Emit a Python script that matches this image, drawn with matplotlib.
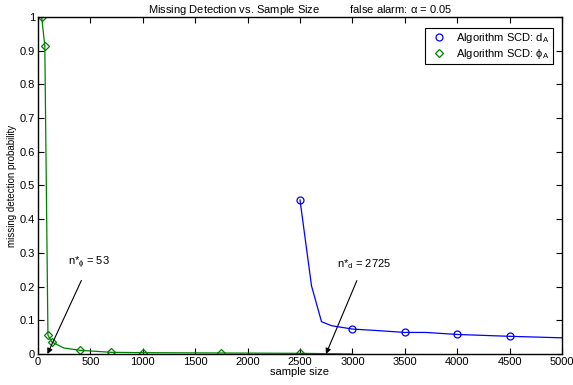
import matplotlib
matplotlib.use("Agg")
import matplotlib.pyplot as plt

plt.rcParams['font.family'] = ['Liberation Sans', 'DejaVu Sans']
plt.rcParams['mathtext.default'] = 'regular'
plt.rcParams['font.size'] = 8

# Algorithm SCD: d_A (blue) - line points and marker points
d_x = [2500, 2610, 2705, 2800, 3000, 3215, 3500, 3700, 4000, 4500, 5000]
d_y = [0.457, 0.202, 0.096, 0.084, 0.074, 0.070, 0.064, 0.064, 0.058, 0.0525, 0.048]
d_mx = [2500, 3000, 3500, 4000, 4500]
d_my = [0.457, 0.074, 0.064, 0.058, 0.0525]

# Algorithm SCD: phi_A (green)
p_x = [35, 65, 95, 130, 245, 400, 700, 1000, 1750, 2500, 3000]
p_y = [1.0, 0.914, 0.056, 0.036, 0.018, 0.011, 0.005, 0.004, 0.003, 0.002, 0.0]
p_mx = [35, 65, 95, 130, 400, 700, 1000, 1750, 2500]
p_my = [1.0, 0.914, 0.056, 0.036, 0.011, 0.005, 0.004, 0.003, 0.002]

blue = (0, 0, 1)
green = (0, 0.5, 0)

fig = plt.figure(figsize=(5.73, 3.85), dpi=100)
ax = fig.add_axes([0.0663, 0.0805, 0.9145, 0.8755])

ax.plot(d_x, d_y, color=blue, lw=0.9)
ax.plot(p_x, p_y, color=green, lw=0.9)
ax.plot(d_mx, d_my, 'o', mfc='none', mec=blue, ms=5, mew=0.9, label='Algorithm SCD: $d_A$')
ax.plot(p_mx, p_my, 'D', mfc='none', mec=green, ms=4.5, mew=0.9, label='Algorithm SCD: $\\phi_A$')

ax.set_xlim(0, 5000)
ax.set_ylim(0, 1)
ax.set_xticks(range(0, 5001, 500))
ax.set_yticks([i / 10 for i in range(11)])
ax.set_yticklabels(['0', '0.1', '0.2', '0.3', '0.4', '0.5', '0.6', '0.7', '0.8', '0.9', '1'])
ax.tick_params(direction='in', top=True, right=True, length=4, width=0.8, pad=2)
for s in ax.spines.values():
    s.set_linewidth(1.0)

ax.set_xlabel('sample size', labelpad=0)
ax.set_ylabel('missing detection probability', labelpad=2, fontsize=7)
ax.set_title('Missing Detection vs. Sample Size          false alarm: $\\alpha$ = 0.05', fontsize=8, pad=3)

ax.annotate('n*$_{\\phi}$ = 53', xy=(90, 0.0), xytext=(290, 0.245),
            arrowprops=dict(arrowstyle='-|>', color='black', lw=0.8, mutation_scale=8, shrinkA=5, shrinkB=0),
            ha='left', va='bottom')
ax.annotate('n*$_d$ = 2725', xy=(2748, 0.0), xytext=(2850, 0.245),
            arrowprops=dict(arrowstyle='-|>', color='black', lw=0.8, mutation_scale=8, shrinkA=5, shrinkB=0),
            ha='left', va='bottom')

leg = ax.legend(loc='upper right', bbox_to_anchor=(0.9925, 0.985), fancybox=False, framealpha=1,
                edgecolor='black', borderpad=0.3, handlelength=2.0, handletextpad=0.5, labelspacing=0.2)
leg.get_frame().set_linewidth(0.8)

fig.savefig('out.png', dpi=100)
